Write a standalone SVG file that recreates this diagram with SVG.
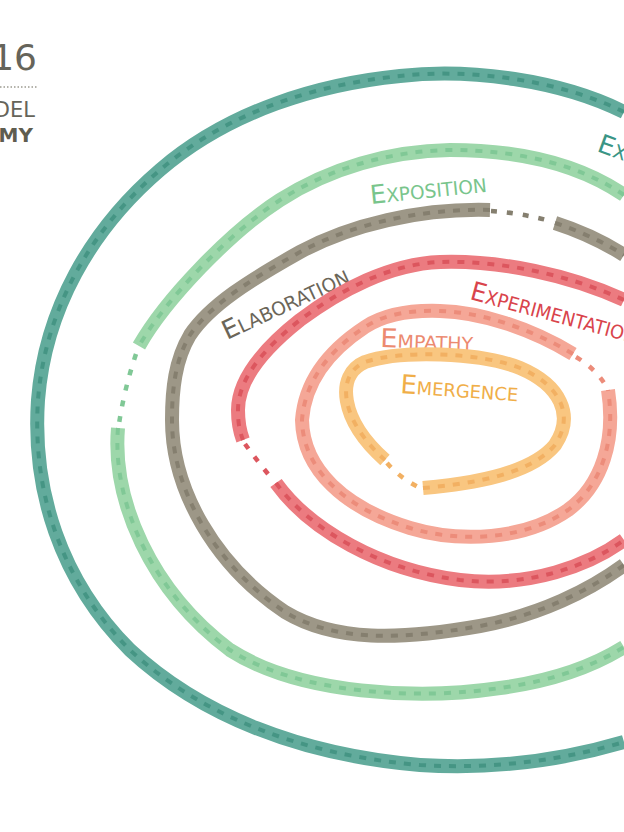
<svg xmlns="http://www.w3.org/2000/svg" xmlns:xlink="http://www.w3.org/1999/xlink" width="624" height="832" viewBox="0 0 624 832">
<style>
.band{fill:none;stroke-width:14;stroke-linecap:butt}
.dash{fill:none;stroke-width:4;stroke-dasharray:7 8}
.gap{fill:none;stroke-width:4.5;stroke-dasharray:6 10}
.lbl{font-family:"DejaVu Sans","Liberation Sans",sans-serif;font-size:19px}
.cap{font-size:26px}
.teal .band{stroke:#62ab9c}.teal .dash{stroke:#459584}
.green .band{stroke:#9dd7aa}.green .dash{stroke:#80c896}
.gray .band{stroke:#9d9787}.gray .dash{stroke:#857f6f}
.red .band{stroke:#ec7b80}.red .dash{stroke:#dc565e}
.salmon .band{stroke:#f5a797}.salmon .dash{stroke:#ec8c7a}
.orange .band{stroke:#f9c680}.orange .dash{stroke:#f2b062}
</style>
<defs>
<path id="pTeal" d="M 624,112 C 560,80 470,68 400,76 C 320,84 230,110 160,170 C 90,230 45,310 38,400 C 32,490 60,580 130,650 C 200,715 300,755 420,765 C 500,770 570,758 624,742"/>
<path id="pGreenA" d="M 624,195 C 580,165 520,150 450,150 C 390,151 330,168 280,200 C 230,232 165,300 139,346"/>
<path id="pGreenB" d="M 118,428 C 112,500 150,590 230,650 C 300,695 420,700 500,688 C 560,680 600,662 624,647"/>
<path id="pGrayA" d="M 490,210 C 420,208 350,225 300,252 C 250,280 210,305 190,335 C 175,360 172,390 172,420 C 172,490 215,565 285,612 C 335,642 400,640 480,626 C 540,615 590,590 624,565"/>
<path id="pGrayB" d="M 555,223 C 580,231 605,243 624,255"/>
<path id="pRedA" d="M 624,300 C 570,275 500,260 440,262 C 390,264 340,290 300,320 C 262,350 238,380 238,410 C 238,425 240,432 243,440"/>
<path id="pRedB" d="M 276,483 C 310,530 380,570 460,580 C 530,588 590,565 624,540"/>
<path id="pSalA" d="M 573,354 C 530,328 480,312 440,311 C 410,310 385,314 365,327 C 330,350 305,380 302,420 C 303,470 345,508 410,528 C 460,543 525,540 568,510 C 602,485 616,440 608,390"/>
<path id="pOra" d="M 423,488 C 470,484 530,475 555,445 C 575,415 560,385 520,368 C 480,352 400,350 365,362 C 335,375 340,420 385,460"/>
</defs>

<g id="title">
<text x="37" y="70" style="font-family:'DejaVu Sans',sans-serif;font-size:36px;fill:#66645a" text-anchor="end">16</text>
<line x1="0" y1="87" x2="37" y2="87" stroke="#6b6859" stroke-width="1.2" stroke-dasharray="1.5 2"/>
<text x="35" y="117" style="font-family:'DejaVu Sans',sans-serif;font-size:21px;fill:#66645a" text-anchor="end">DEL</text>
<text x="33" y="142" style="font-family:'DejaVu Sans',sans-serif;font-size:20px;font-weight:bold;fill:#5f5d50" text-anchor="end">MY</text>
</g>

<g id="ring-teal" class="teal">
<use xlink:href="#pTeal" class="band"/><use xlink:href="#pTeal" class="dash"/>
<text class="lbl" transform="translate(596,151) rotate(20)" fill="#3a9585"><tspan class="cap">E</tspan>X</text>
</g>

<g id="ring-exposition" class="green">
<use xlink:href="#pGreenA" class="band"/><use xlink:href="#pGreenA" class="dash"/>
<use xlink:href="#pGreenB" class="band"/><use xlink:href="#pGreenB" class="dash"/>
<text class="lbl" transform="translate(371,204) rotate(-6)" fill="#79c58c" textLength="117" lengthAdjust="spacingAndGlyphs"><tspan class="cap">E</tspan>XPOSITION</text>
</g>

<g id="ring-elaboration" class="gray">
<use xlink:href="#pGrayA" class="band"/><use xlink:href="#pGrayA" class="dash"/>
<use xlink:href="#pGrayB" class="band"/><use xlink:href="#pGrayB" class="dash"/>
<text class="lbl" transform="translate(227,340) rotate(-25)" fill="#6b6659" textLength="137" lengthAdjust="spacingAndGlyphs"><tspan class="cap">E</tspan>LABORATION</text>
</g>

<g id="ring-experimentation" class="red">
<use xlink:href="#pRedA" class="band"/><use xlink:href="#pRedA" class="dash"/>
<use xlink:href="#pRedB" class="band"/><use xlink:href="#pRedB" class="dash"/>
<text class="lbl" transform="translate(469,299) rotate(15)" fill="#d9444c" textLength="172" lengthAdjust="spacingAndGlyphs"><tspan class="cap">E</tspan>XPERIMENTATION</text>
</g>

<g id="ring-empathy" class="salmon">
<use xlink:href="#pSalA" class="band"/><use xlink:href="#pSalA" class="dash"/>
<text class="lbl" transform="translate(380,347) rotate(2)" fill="#ec8a70" textLength="93" lengthAdjust="spacingAndGlyphs" style="font-size:18px"><tspan class="cap">E</tspan>MPATHY</text>
</g>

<g id="ring-emergence" class="orange">
<use xlink:href="#pOra" class="band"/><use xlink:href="#pOra" class="dash"/>
<text class="lbl" transform="translate(400,393) rotate(4)" fill="#f0ae48" textLength="118" lengthAdjust="spacingAndGlyphs" style="font-size:18px"><tspan class="cap">E</tspan>MERGENCE</text>
</g>

<g id="connectors">
<path class="gap" d="M 136,354 Q 124,390 119,424" stroke="#80c896"/>
<path class="gap" d="M 491,211 Q 522,213 554,222" stroke="#857f6f"/>
<path class="gap" d="M 245,444 Q 258,462 273,480" stroke="#dc565e"/>
<path class="gap" d="M 576,357 Q 595,368 606,386" stroke="#ec8c7a"/>
<path class="gap" d="M 387,463 Q 400,478 420,488" stroke="#f2b062"/>
</g>
</svg>
